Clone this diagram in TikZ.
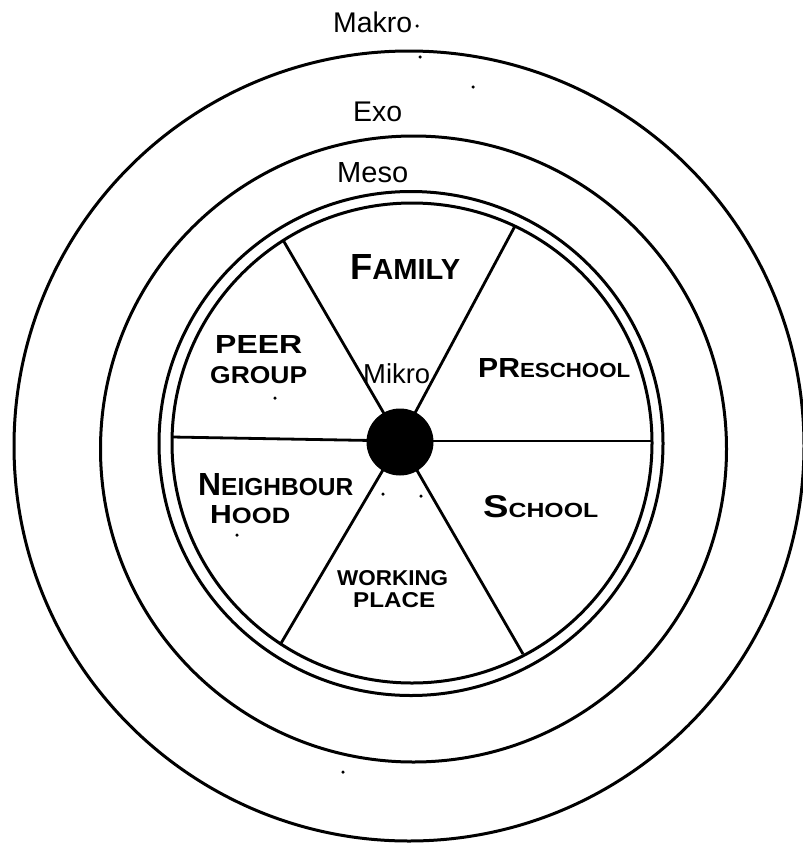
\documentclass[tikz,border=0pt]{standalone}
\usepackage{fontspec}
\setmainfont{Liberation Sans}
\usepackage{graphicx}
\newcommand\smcr[2]{{\fontsize{#1}{#1}\selectfont #2}}
\begin{document}
\begin{tikzpicture}[x=1pt,y=-1pt,
  ring/.style={line width=3pt},
  spoke/.style={line width=2.8pt},
  lvl/.style={inner sep=0pt, anchor=base west, font=\fontsize{10}{12}\selectfont},
  hand/.style={inner sep=0pt, anchor=base west, font=\fontsize{10}{12}\selectfont\bfseries},
  speck/.style={fill=black, circle, inner sep=0pt, minimum size=3.5pt}]
\useasboundingbox (0,0) rectangle (803,846);
\fill[white] (0,0) rectangle (803,846);
% rings
\coordinate (cMakro) at (409,446);
\coordinate (cExo) at (413.5,449);
\coordinate (cMesoA) at (411,443.5);
\coordinate (cMesoB) at (412,443);
\draw[ring] (cMakro) circle[radius=395pt];
\draw[ring] (cExo) circle[radius=313pt];
\draw[ring] (cMesoA) circle[radius=252pt];
\draw[ring] (cMesoB) circle[radius=240pt];
% spokes
\coordinate (hub) at (400,441);
\coordinate (sW) at (172,437);
\coordinate (sE) at (652,441);
\coordinate (sNW) at (283,240);
\coordinate (sNE) at (515,226);
\coordinate (sSW) at (280,645);
\coordinate (sSE) at (523,654);
\draw[spoke] (hub) -- (sW);
\draw[spoke] (hub) -- (sE);
\draw[spoke] (hub) -- (sNW);
\draw[spoke] (hub) -- (sNE);
\draw[spoke] (hub) -- (sSW);
\draw[spoke] (hub) -- (sSE);
\node[circle, fill=black, minimum size=67pt, inner sep=0pt] (mikrodot) at (400,442) {};
% level labels
\node[lvl] (makro) at (333,32) {\resizebox{79pt}{!}{Makro}};
\node[lvl] (exo) at (353,121) {\resizebox{49pt}{!}{Exo}};
\node[lvl] (meso) at (337,182) {\resizebox{71pt}{!}{Meso}};
\node[lvl] (mikro) at (363,383) {\resizebox{67pt}{!}{Mikro}};
% sector labels
\node[hand] (family) at (350,279) {\resizebox{110pt}{25pt}{F\smcr{8}{AMILY}}};
\node[hand] (peer) at (215,353) {\resizebox{87pt}{18pt}{PEER}};
\node[hand] (group) at (210,383) {\resizebox{97pt}{17pt}{GROUP}};
\node[hand] (preschool) at (478,377) {\resizebox{152pt}{19pt}{PR\smcr{7.4}{ESCHOOL}}};
\node[hand] (neighbour) at (198,495) {\resizebox{155pt}{22pt}{N\smcr{7.7}{EIGHBOUR}}};
\node[hand] (hood) at (210,523) {\resizebox{80pt}{18pt}{H\smcr{8.5}{OOD}}};
\node[hand] (school) at (483,517) {\resizebox{115pt}{22pt}{S\smcr{6.5}{CHOOL}}};
\node[hand] (working) at (337,585) {\resizebox{111pt}{15pt}{WORKING}};
\node[hand] (place) at (353,607) {\resizebox{82pt}{15pt}{PLACE}};
% specks
\node[speck] (d1) at (417,26) {};
\node[speck] (d2) at (420,57) {};
\node[speck] (d3) at (473,87) {};
\node[speck] (d4) at (275,398) {};
\node[speck] (d5) at (237,535) {};
\node[speck] (d6) at (383,494) {};
\node[speck] (d7) at (421,496) {};
\node[speck] (d8) at (343,772) {};
\end{tikzpicture}
\end{document}
